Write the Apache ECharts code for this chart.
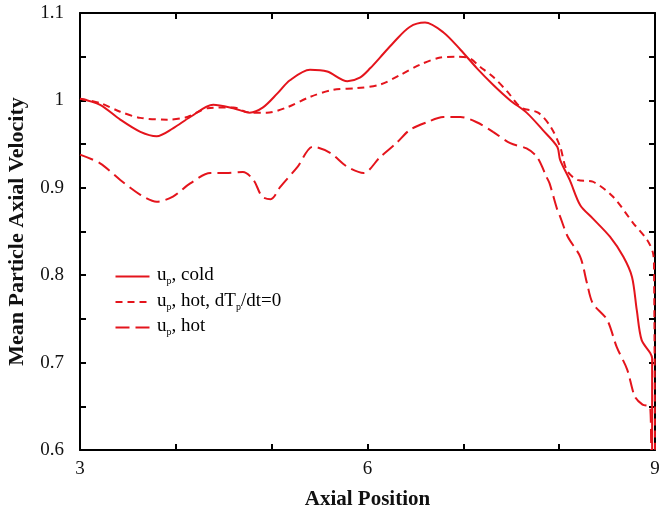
<!DOCTYPE html>
<html>
<head>
<meta charset="utf-8">
<script src="https://cdn.jsdelivr.net/npm/echarts@6/dist/echarts.min.js"></script>
<style>
html,body{margin:0;padding:0;background:#fff;}
#chart{width:659px;height:510px;}
</style>
</head>
<body>
<div id="chart"></div>
<script>
// Mean particle axial velocity along the axis, three model variants
const coldX = [3.0,3.21,3.42,3.63,3.80,3.97,4.15,4.39,4.60,4.77,4.91,5.06,5.19,5.40,5.58,5.79,5.92,6.03,6.13,6.27,6.44,6.60,6.79,6.97,7.14,7.31,7.49,7.66,7.83,7.98,8.01,8.11,8.22,8.35,8.53,8.67,8.76,8.81,8.86,8.95,8.97,8.97];
const coldY = [1.002,0.995,0.978,0.964,0.959,0.968,0.981,0.995,0.991,0.986,0.992,1.008,1.023,1.035,1.033,1.022,1.026,1.037,1.049,1.066,1.084,1.089,1.078,1.058,1.037,1.018,1.000,0.986,0.966,0.947,0.932,0.909,0.880,0.865,0.844,0.821,0.798,0.760,0.726,0.711,0.705,0.6];

const hotFrozenX = [3.0,3.21,3.42,3.63,3.91,4.12,4.33,4.60,4.77,4.95,5.16,5.40,5.64,5.89,6.13,6.34,6.55,6.76,6.94,7.05,7.18,7.31,7.46,7.60,7.78,7.91,8.01,8.08,8.19,8.35,8.56,8.77,8.92,8.98,8.99,9.0];
const hotFrozenY = [1.002,0.997,0.987,0.980,0.978,0.981,0.991,0.992,0.986,0.986,0.992,1.004,1.012,1.014,1.018,1.029,1.041,1.049,1.050,1.049,1.038,1.027,1.010,0.992,0.986,0.970,0.947,0.920,0.909,0.907,0.890,0.860,0.840,0.825,0.806,0.6];

const hotX = [3.0,3.21,3.42,3.63,3.80,3.97,4.15,4.36,4.53,4.70,4.81,4.90,4.99,5.09,5.27,5.43,5.61,5.79,5.96,6.13,6.30,6.44,6.62,6.79,6.97,7.14,7.31,7.49,7.66,7.77,7.87,7.90,7.98,8.01,8.09,8.22,8.29,8.35,8.50,8.60,8.71,8.79,8.87,8.95,8.96];
const hotY = [0.938,0.928,0.909,0.892,0.884,0.890,0.905,0.917,0.917,0.918,0.909,0.890,0.887,0.901,0.924,0.947,0.940,0.924,0.917,0.935,0.951,0.966,0.975,0.981,0.981,0.975,0.964,0.951,0.945,0.935,0.912,0.905,0.875,0.867,0.844,0.821,0.791,0.768,0.749,0.718,0.692,0.661,0.652,0.649,0.6];

const seriesNames = ['cold', 'frozen', 'hot'];
const xTickLabels = [3, 6, 9];
const yTickLabels = [0.6, 0.7, 0.8, 0.9, 1, 1.1];

const RED = '#e4141c';
const SERIF = '"Liberation Serif","DejaVu Serif",serif';
const DASHES = {cold: 'solid', frozen: [7, 5], hot: [14, 6]};

const zip = (xs, ys) => xs.map((x, i) => [x, ys[i]]);

const legendText = {
  cold: '{t|u}{s|p}{t|, cold}',
  frozen: '{t|u}{s|p}{t|, hot, dT}{s|p}{t|/dt=0}',
  hot: '{t|u}{s|p}{t|, hot}'
};
const legendRich = {
  t: {fontFamily: SERIF, fontSize: 19, color: '#111'},
  s: {fontFamily: SERIF, fontSize: 10, color: '#111', padding: [12, 0, 0, 0]}
};

// hand-built key: sample stroke plus label for each series
const legendGraphics = [];
seriesNames.forEach((n, i) => {
  const y = 275 + i * 25.5;
  const dash = DASHES[n];
  legendGraphics.push({
    type: 'line', left: 113, top: y - 1,
    shape: {x1: 0, y1: 0, x2: 34, y2: 0},
    style: {stroke: RED, lineWidth: 2, lineDash: dash === 'solid' ? null : dash}
  });
  legendGraphics.push({
    type: 'text', left: 157, top: y - 9,
    style: {text: legendText[n], rich: legendRich}
  });
});

const axisCommon = {
  axisLine: {show: true, lineStyle: {color: '#000', width: 2}},
  axisTick: {show: true, inside: true, length: 6, lineStyle: {color: '#000', width: 2}},
  splitLine: {show: false}
};

const chart = echarts.init(document.getElementById('chart'), null, {renderer: 'canvas'});
chart.setOption({
  animation: false,
  backgroundColor: '#fff',
  grid: {left: 80, right: 4, top: 13, bottom: 60, containLabel: false, outerBoundsMode: 'none'},
  graphic: legendGraphics,
  xAxis: [
    Object.assign({
      type: 'value', min: 3, max: 9, interval: 1, position: 'bottom',
      name: 'Axial Position', nameLocation: 'middle', nameGap: 39,
      nameTextStyle: {fontFamily: SERIF, fontSize: 21, fontWeight: 'bold', color: '#111'},
      axisLabel: {
        show: true, margin: 10, fontFamily: SERIF, fontSize: 19, color: '#111',
        formatter: v => (xTickLabels.indexOf(v) >= 0 ? String(v) : '')
      }
    }, axisCommon),
    Object.assign({
      type: 'value', min: 3, max: 9, interval: 1, position: 'top',
      axisLabel: {show: false}
    }, axisCommon)
  ],
  yAxis: [
    Object.assign({
      type: 'value', min: 0.6, max: 1.1, interval: 0.05, position: 'left',
      name: 'Mean Particle Axial Velocity', nameLocation: 'middle', nameGap: 52,
      nameTextStyle: {fontFamily: SERIF, fontSize: 22, fontWeight: 'bold', color: '#111'},
      axisLabel: {
        show: true, margin: 16, fontFamily: SERIF, fontSize: 19, color: '#111',
        formatter: v => {
          const r = Math.round(v * 100) / 100;
          return yTickLabels.some(t => Math.abs(t - r) < 1e-6) ? String(r) : '';
        }
      }
    }, axisCommon),
    Object.assign({
      type: 'value', min: 0.6, max: 1.1, interval: 0.05, position: 'right',
      axisLabel: {show: false}
    }, axisCommon)
  ],
  series: [
    {
      name: 'cold', type: 'line', symbol: 'none', smooth: 0.3,
      data: zip(coldX, coldY),
      lineStyle: {color: RED, width: 2, type: DASHES.cold}
    },
    {
      name: 'frozen', type: 'line', symbol: 'none', smooth: 0.3,
      data: zip(hotFrozenX, hotFrozenY),
      lineStyle: {color: RED, width: 2, type: DASHES.frozen}
    },
    {
      name: 'hot', type: 'line', symbol: 'none', smooth: 0.3,
      data: zip(hotX, hotY),
      lineStyle: {color: RED, width: 2, type: DASHES.hot}
    }
  ]
});
</script>
</body>
</html>
